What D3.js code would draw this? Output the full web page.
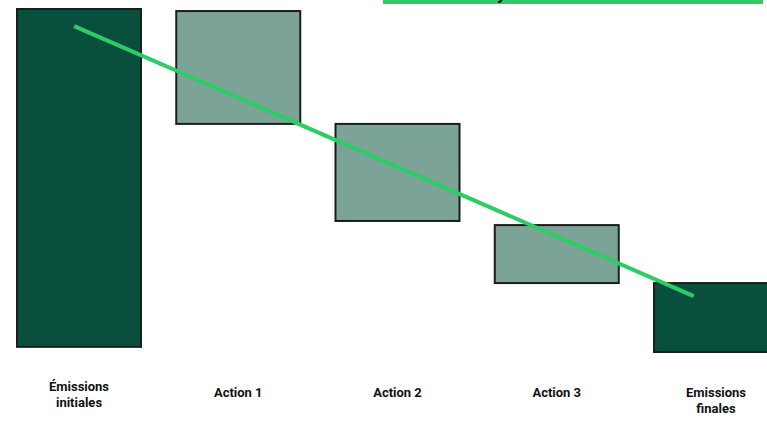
<!DOCTYPE html>
<html>
<head>
<meta charset="utf-8">
<script src="https://cdn.jsdelivr.net/npm/d3@7"></script>
<style>
  html, body { margin: 0; padding: 0; background: #fff; overflow: hidden; }
  text { font-family: Roboto, "Noto Sans", sans-serif; font-weight: bold; }
</style>
</head>
<body>
<div id="chart"></div>
<script>
// waterfall steps (values on an arbitrary 0-100 emissions scale)
const categories = ["Émissions initiales", "Action 1", "Action 2", "Action 3", "Emissions finales"];
const labelLines = [["Émissions", "initiales"], ["Action 1"], ["Action 2"], ["Action 3"], ["Emissions", "finales"]];
const barTop = [100, 99.4, 66.5, 37.0, 20.1];
const barBottom = [1.5, 66.5, 38.2, 20.1, 0];
const barKind = ["total", "step", "step", "step", "total"];
// trend line (category position, value)
const trendPos = [-0.03, 3.86];
const trendValue = [95.0, 16.3];
const title = "Analyse des émissions";

const W = 767, H = 421;

const svg = d3.select("#chart")
  .append("svg")
  .attr("width", W)
  .attr("height", H);

const x = d3.scalePoint()
  .domain(categories)
  .range([79, 716]);

const xPos = d3.scaleLinear()
  .domain([0, categories.length - 1])
  .range([79, 716]);

const y = d3.scaleLinear()
  .domain([0, 100])
  .range([352, 9]);

const barW = 124;
const color = { total: "#08503d", step: "#7ba397" };

// title box, mostly above the visible area
svg.append("rect")
  .attr("x", 383)
  .attr("y", -40)
  .attr("width", 380)
  .attr("height", 44)
  .attr("fill", "#2ecc65");

const t = svg.append("text")
  .attr("x", 0)
  .attr("y", -1)
  .style("font-size", "18px")
  .attr("fill", "#000")
  .text(title);
const yIdx = title.indexOf("y");
const before = t.node().getSubStringLength(0, yIdx);
t.attr("x", 497 - before);

svg.selectAll(".bar")
  .data(categories)
  .enter()
  .append("rect")
  .attr("class", "bar")
  .attr("x", d => x(d) - barW / 2)
  .attr("y", (d, i) => y(barTop[i]))
  .attr("width", barW)
  .attr("height", (d, i) => y(barBottom[i]) - y(barTop[i]))
  .attr("fill", (d, i) => color[barKind[i]])
  .attr("stroke", "#1c1c1c")
  .attr("stroke-width", 2);

svg.append("line")
  .attr("x1", xPos(trendPos[0]))
  .attr("y1", y(trendValue[0]))
  .attr("x2", xPos(trendPos[1]))
  .attr("y2", y(trendValue[1]))
  .attr("stroke", "#2ecc65")
  .attr("stroke-width", 4);

const labels = svg.selectAll(".label")
  .data(categories)
  .enter()
  .append("text")
  .attr("class", "label")
  .attr("text-anchor", "middle")
  .style("font-size", "13px")
  .attr("fill", "#111")
  .attr("transform", (d, i) => "translate(" + x(d) + "," + (i === 0 ? 391 : 397) + ")");

labels.selectAll("tspan")
  .data((d, i) => labelLines[i])
  .enter()
  .append("tspan")
  .attr("x", 0)
  .attr("dy", (d, j) => j === 0 ? 0 : 16)
  .text(d => d);
</script>
</body>
</html>
